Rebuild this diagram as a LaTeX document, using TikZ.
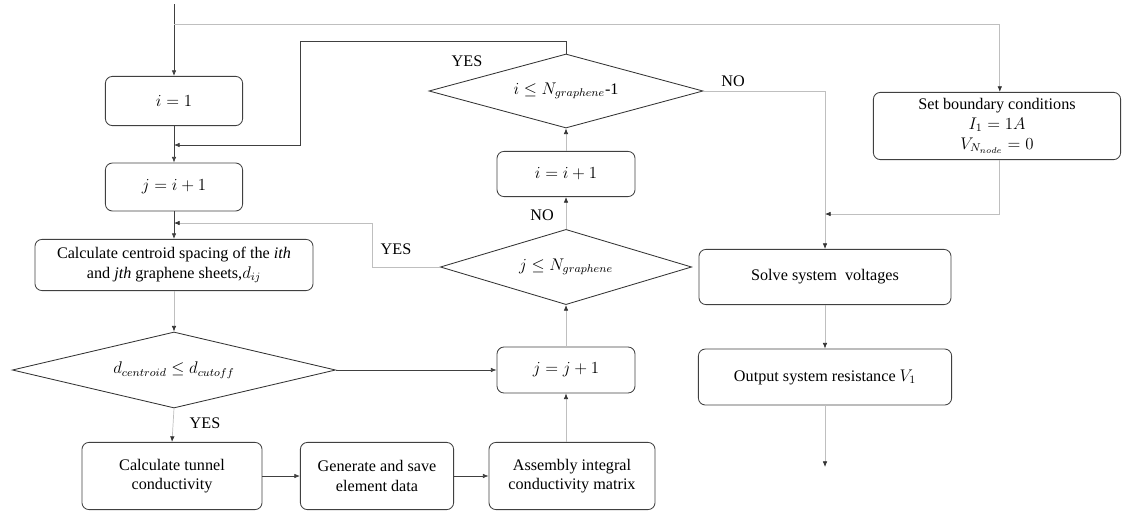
\documentclass[tikz,border=0pt]{standalone}
\usepackage{amsmath}
\usepackage{fontspec}
\setmainfont{Liberation Serif}
\usepackage{tikz}
\usetikzlibrary{shapes.geometric, arrows.meta, positioning, calc}

\begin{document}
\begin{tikzpicture}[
    x=0.025cm, y=-0.025cm,
    >={Latex[length=4pt,width=3.2pt]},
    font=\fontsize{11.5}{14}\selectfont,
    proc/.style={
        rectangle, rounded corners=5pt,
        draw=black!75, line width=0.6pt,
        align=center, inner sep=2pt
    },
    cond/.style={
        diamond, aspect=4,
        draw=black!80, line width=0.6pt,
        align=center, inner sep=0pt
    },
    flow/.style={-{Latex[length=4pt,width=3.2pt]}, black!75, line width=0.5pt},
    aux/.style={-{Latex[length=4pt,width=3.2pt,black!80]}, black!25, line width=0.5pt}
]

\useasboundingbox (0,0) rectangle (1122,513);

\def\colA{174}
\def\colB{566}
\def\colC{825}

\node (i1)   [proc, minimum width=3.43cm, minimum height=1.23cm] at (\colA,101) {$i = 1$};
\node (j1)   [proc, minimum width=3.43cm, minimum height=1.2cm]  at (\colA,187) {$j = i + 1$};
\node (calc) [proc, minimum width=6.95cm, minimum height=1.28cm] at (\colA,265)
    {Calculate centroid spacing of the \textit{ith}\\and \textit{jth} graphene sheets,$d_{ij}$};
\node (dcut) [cond, minimum width=8.08cm, minimum height=1.9cm]  at (\colA,370)
    {$d_{centroid} \leq d_{cutoff}$};

\node (tunnel) [proc, minimum width=4.5cm,  minimum height=1.68cm] at (172,476)
    {Calculate tunnel\\conductivity};
\node (gen)    [proc, minimum width=3.83cm, minimum height=1.68cm] at (377,476)
    {Generate and save\\element data};
\node (asm)    [proc, minimum width=4.15cm, minimum height=1.68cm] at (572,476)
    {Assembly integral\\conductivity matrix};

\node (jj)   [proc, minimum width=3.45cm, minimum height=1.15cm] at (\colB,370) {$j = j + 1$};
\node (jdia) [cond, minimum width=6.28cm, minimum height=1.88cm] at (\colB,267) {$j \leq N_{graphene}$};
\node (ii)   [proc, minimum width=3.45cm, minimum height=1.13cm] at (\colB,174) {$i = i + 1$};
\node (idia) [cond, minimum width=6.85cm, minimum height=1.85cm] at (\colB,91)  {$i \leq N_{graphene}$-1};

\node (setb)   [proc, minimum width=6.18cm, minimum height=1.68cm] at (997,126)
    {Set boundary conditions\\$I_1 = 1A$\\$V_{N_{node}} = 0$};
\node (solve)  [proc, minimum width=6.3cm,  minimum height=1.38cm] at (\colC,277)
    {Solve system~ voltages};
\node (output) [proc, minimum width=6.33cm, minimum height=1.4cm]  at (\colC,377)
    {Output system resistance $V_1$};

\coordinate (start) at (\colA,4);
\coordinate (fork)  at (\colA,24);
\coordinate (joinA) at (\colA,145);
\coordinate (loopA) at (300,41);
\coordinate (joinB) at (\colA,223);
\coordinate (loopB) at (372,223);
\coordinate (joinC) at (\colC,214);
\coordinate (stop)  at (\colC,467);

\draw[flow] (start) -- (i1.north);
\draw[aux] (fork) -| ([xshift=2pt]setb.north);
\draw[flow] (i1) -- (j1);
\draw[flow] (idia.north) |- (loopA) |- (joinA);
\draw[flow] (j1) -- (calc);
\draw[aux] (jdia.west) -| (loopB) -- (joinB);
\draw[aux] (calc) -- (dcut);
\draw[flow] (dcut.east) -- (jj.west);
\draw[aux] (dcut.south) -- (tunnel.north);
\draw[flow] (tunnel) -- (gen);
\draw[flow] (gen) -- (asm);
\draw[aux] (asm.north -| jj) -- (jj.south);
\draw[aux] (jj) -- (jdia);
\draw[aux] (jdia) -- (ii);
\draw[aux] (ii) -- (idia);
\draw[aux] (idia.east) -| (solve.north);
\draw[aux] ([xshift=2pt]setb.south) |- (joinC);
\draw[aux] (solve) -- (output);
\draw[aux] (output) -- (stop);

\node (yesA) at (467,61)  {YES};
\node (yesB) at (396,249) {YES};
\node (yesC) at (205,423) {YES};
\node (noA)  at (733,81)  {NO};
\node (noB)  at (542,215) {NO};

\end{tikzpicture}
\end{document}
